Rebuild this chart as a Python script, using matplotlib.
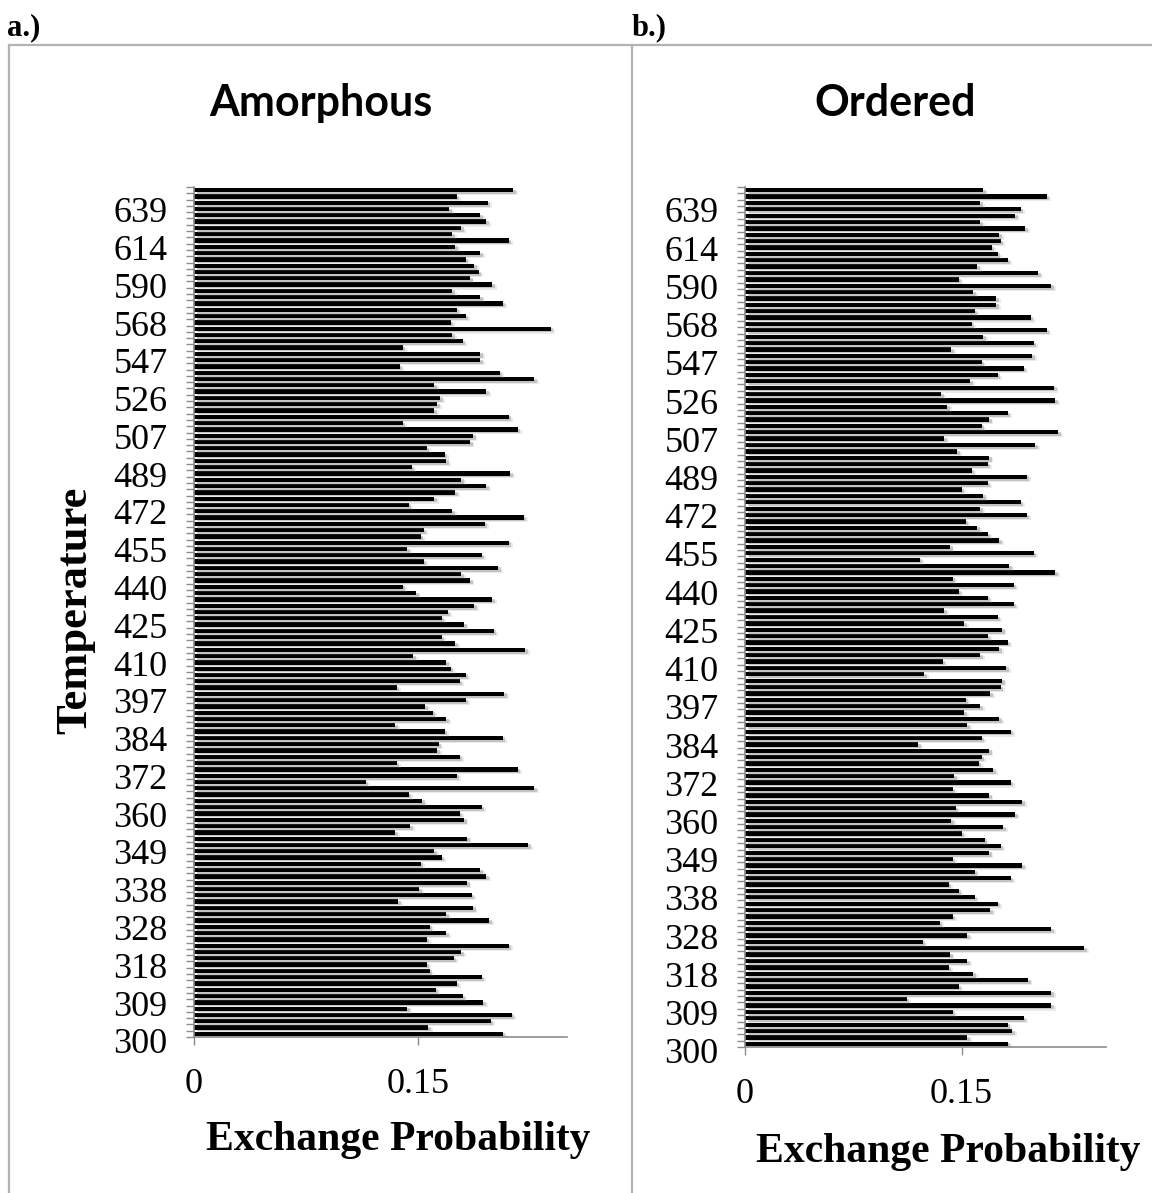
import matplotlib
matplotlib.use("Agg")
import matplotlib.pyplot as plt
from matplotlib import patheffects
from matplotlib.lines import Line2D
from matplotlib.transforms import ScaledTranslation

# exchange acceptance per replica, listed from the hottest replica down to 300 K
amorphous_hot_to_cold = [
    0.214, 0.176, 0.197, 0.171, 0.192, 0.196, 0.179, 0.173, 0.211, 0.175,
    0.192, 0.182, 0.188, 0.191, 0.185, 0.200, 0.173, 0.192, 0.207, 0.176,
    0.182, 0.172, 0.239, 0.173, 0.180, 0.140, 0.192, 0.192, 0.138, 0.205,
    0.228, 0.161, 0.196, 0.165, 0.163, 0.161, 0.211, 0.140, 0.217, 0.187,
    0.185, 0.156, 0.168, 0.169, 0.146, 0.212, 0.179, 0.196, 0.175, 0.161,
    0.144, 0.173, 0.221, 0.195, 0.154, 0.152, 0.211, 0.143, 0.193, 0.154,
    0.204, 0.179, 0.185, 0.140, 0.149, 0.200, 0.188, 0.170, 0.166, 0.181,
    0.201, 0.166, 0.175, 0.222, 0.147, 0.169, 0.172, 0.182, 0.178, 0.136,
    0.208, 0.182, 0.155, 0.160, 0.169, 0.135, 0.168, 0.207, 0.164, 0.163,
    0.178, 0.136, 0.217, 0.176, 0.115, 0.228, 0.144, 0.153, 0.193, 0.178,
    0.181, 0.145, 0.135, 0.183, 0.224, 0.161, 0.166, 0.152, 0.192, 0.196,
    0.183, 0.151, 0.186, 0.137, 0.187, 0.169, 0.198, 0.158, 0.169, 0.156,
    0.211, 0.179, 0.174, 0.156, 0.158, 0.193, 0.176, 0.162, 0.180, 0.194,
    0.143, 0.213, 0.199, 0.157, 0.207,
]

ordered_hot_to_cold = [
    0.165, 0.209, 0.163, 0.191, 0.187, 0.163, 0.194, 0.176, 0.177, 0.171,
    0.175, 0.182, 0.161, 0.203, 0.148, 0.212, 0.158, 0.174, 0.174, 0.159,
    0.198, 0.157, 0.209, 0.165, 0.200, 0.143, 0.199, 0.164, 0.193, 0.175,
    0.156, 0.214, 0.136, 0.215, 0.140, 0.182, 0.169, 0.164, 0.217, 0.138,
    0.201, 0.147, 0.169, 0.168, 0.157, 0.195, 0.168, 0.150, 0.165, 0.191,
    0.163, 0.195, 0.153, 0.161, 0.168, 0.176, 0.142, 0.200, 0.121, 0.183,
    0.215, 0.144, 0.186, 0.148, 0.168, 0.186, 0.138, 0.175, 0.152, 0.178,
    0.168, 0.182, 0.176, 0.163, 0.137, 0.181, 0.124, 0.178, 0.177, 0.170,
    0.153, 0.163, 0.152, 0.176, 0.154, 0.184, 0.164, 0.120, 0.169, 0.164,
    0.162, 0.172, 0.145, 0.184, 0.144, 0.169, 0.192, 0.146, 0.187, 0.143,
    0.179, 0.150, 0.166, 0.177, 0.169, 0.144, 0.192, 0.159, 0.184, 0.141,
    0.148, 0.159, 0.175, 0.170, 0.144, 0.135, 0.212, 0.154, 0.123, 0.235,
    0.142, 0.154, 0.141, 0.158, 0.196, 0.148, 0.212, 0.112, 0.212, 0.144,
    0.193, 0.182, 0.185, 0.154, 0.182,
]

amorphous = amorphous_hot_to_cold[::-1]
ordered = ordered_hot_to_cold[::-1]

# every sixth replica gets a temperature label
temp_labels = [300, 309, 318, 328, 338, 349, 360, 372, 384, 397, 410, 425,
               440, 455, 472, 489, 507, 526, 547, 568, 590, 614, 639]
label_step = 6

x_ticks = [0, 0.15]
x_ticklabels = ["0", "0.15"]

W, H = 1152, 1193
fig = plt.figure(figsize=(W / 100, H / 100), dpi=100)

SERIF = "Liberation Serif"
GRID = "#8c8c8c"


def fx(px):
    return px / W


def fy(py):
    return 1 - py / H


shadow = [
    patheffects.SimplePatchShadow(offset=(1.8, -1.2), shadow_rgbFace="0.45", alpha=0.35),
    patheffects.SimplePatchShadow(offset=(3.2, -2.0), shadow_rgbFace="0.6", alpha=0.2),
    patheffects.Normal(),
]


def panel(values, box, title, title_xy, xlabel_xy):
    left, top, right, bottom = box
    ax = fig.add_axes([fx(left), fy(bottom), fx(right - left), (bottom - top) / H])
    n = len(values)
    pos = list(range(n))
    bars = ax.barh(pos, values, height=0.68, color="black", linewidth=0)
    for b in bars:
        b.set_path_effects(shadow)

    ax.set_xlim(0, 0.25)
    ax.set_ylim(-0.5, n - 0.5)

    ax.set_yticks(pos[::label_step])
    ax.set_yticklabels([str(t) for t in temp_labels])
    ax.set_yticks([i - 0.5 for i in range(n + 1)], minor=True)
    ax.tick_params(axis="y", which="major", length=0, pad=19, labelsize=26)
    ax.tick_params(axis="y", which="minor", length=6, width=1, color=GRID, direction="out")
    for lbl in ax.get_yticklabels():
        lbl.set_fontfamily(SERIF)
        lbl.set_transform(lbl.get_transform() + ScaledTranslation(0, -0.07, fig.dpi_scale_trans))

    ax.set_xticks(x_ticks)
    ax.set_xticklabels(x_ticklabels)
    ax.tick_params(axis="x", length=6, width=1, color=GRID, direction="out", pad=16, labelsize=26)
    for lbl in ax.get_xticklabels():
        lbl.set_fontfamily(SERIF)

    for side in ("top", "right"):
        ax.spines[side].set_visible(False)
    for side in ("left", "bottom"):
        ax.spines[side].set_color(GRID)
        ax.spines[side].set_linewidth(1.2)

    fig.text(fx(title_xy[0]), fy(title_xy[1]), title, ha="center", va="center",
             fontsize=31, fontweight="bold", family="Lato")
    fig.text(fx(xlabel_xy[0]), fy(xlabel_xy[1]), "Exchange Probability", ha="center",
             va="center", fontsize=30, fontweight="bold", family=SERIF)
    return ax


panel(amorphous, (194, 187, 567, 1037), "Amorphous", (321, 103), (398, 1140))
panel(ordered, (745, 187, 1106, 1047), "Ordered", (895, 103), (948, 1152))

fig.text(fx(75), fy(610), "Temperature", rotation=90, ha="center", va="center",
         fontsize=32, fontweight="bold", family=SERIF)

fig.text(fx(7), fy(28), "a.)", ha="left", va="center", fontsize=22,
         fontweight="bold", family=SERIF)
fig.text(fx(632), fy(28), "b.)", ha="left", va="center", fontsize=22,
         fontweight="bold", family=SERIF)

# panel frames
frame = dict(color="#b3b3b3", linewidth=1.6, transform=fig.transFigure)
fig.add_artist(Line2D([fx(9), 1], [fy(45), fy(45)], **frame))
fig.add_artist(Line2D([fx(9), fx(9)], [fy(45), 0], **frame))
fig.add_artist(Line2D([fx(632), fx(632)], [fy(45), 0], **frame))

fig.savefig("out.png", dpi=100, facecolor="white")
